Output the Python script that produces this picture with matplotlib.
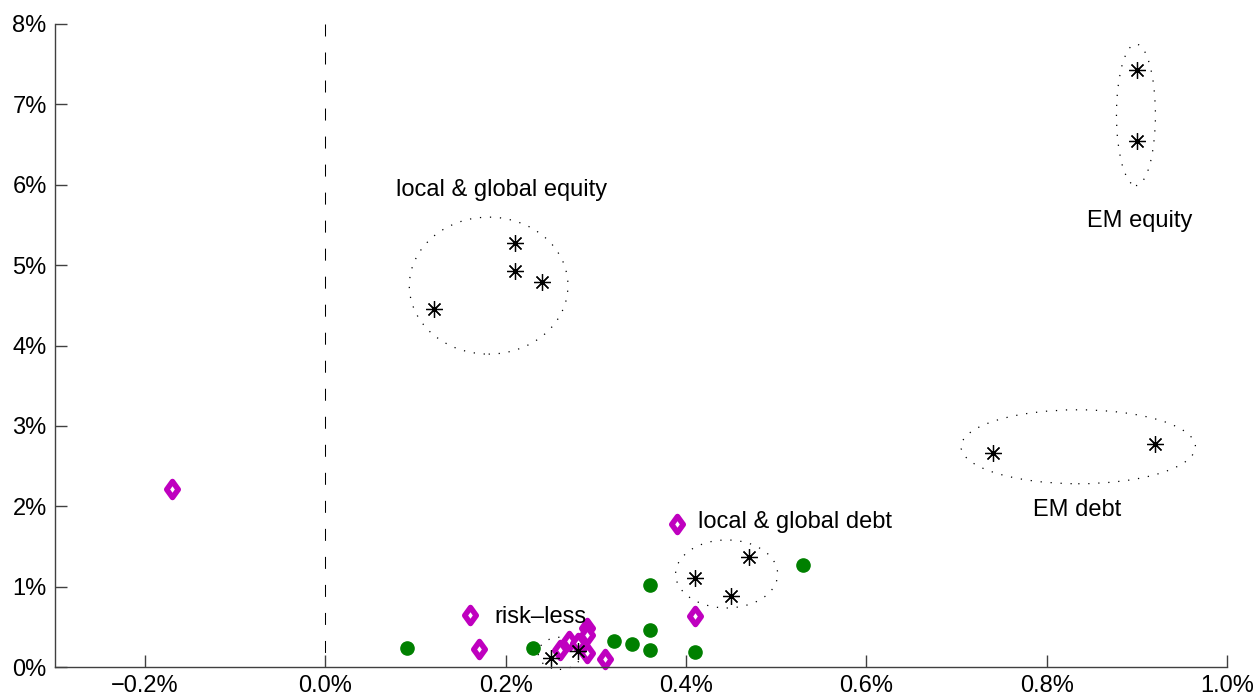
import numpy as np
import matplotlib.pyplot as plt
from matplotlib.patches import Ellipse
from matplotlib.path import Path

plt.rcParams['font.family'] = ['Liberation Sans', 'DejaVu Sans']

# --- data (x: %, y: %)
star_x = [0.90, 0.90, 0.12, 0.21, 0.21, 0.24, 0.74, 0.92, 0.41, 0.45, 0.47, 0.25, 0.28]
star_y = [7.43, 6.55, 4.45, 5.27, 4.93, 4.79, 2.66, 2.77, 1.11, 0.88, 1.37, 0.11, 0.20]

diam_x = [-0.17, 0.16, 0.17, 0.39, 0.41, 0.26, 0.27, 0.28, 0.29, 0.29, 0.29, 0.31]
diam_y = [2.21, 0.65, 0.22, 1.78, 0.63, 0.21, 0.32, 0.30, 0.49, 0.40, 0.17, 0.10]

dot_x = [0.09, 0.23, 0.32, 0.34, 0.36, 0.36, 0.36, 0.41, 0.53]
dot_y = [0.24, 0.24, 0.32, 0.29, 1.02, 0.46, 0.21, 0.19, 1.27]

# group ellipses: centre x, centre y, half-width, half-height
ell_cx = [0.181, 0.899, 0.835, 0.445, 0.260]
ell_cy = [4.745, 6.870, 2.740, 1.157, 0.170]
ell_rx = [0.088, 0.0216, 0.130, 0.0566, 0.024]
ell_ry = [0.852, 0.880, 0.460, 0.423, 0.200]

labels = ['local & global equity', 'EM equity', 'EM debt', 'local & global debt', 'risk\u2013less']
label_x = [0.195, 0.903, 0.834, 0.413, 0.187]
label_y = [5.93, 5.55, 1.95, 1.80, 0.62]
label_ha = ['center', 'center', 'center', 'left', 'left']

xticks = [-0.2, 0.0, 0.2, 0.4, 0.6, 0.8, 1.0]
xticklabels = ['\u22120.2%', '0.0%', '0.2%', '0.4%', '0.6%', '0.8%', '1.0%']
yticks = [0, 1, 2, 3, 4, 5, 6, 7, 8]
yticklabels = ['%d%%' % v for v in yticks]

# MATLAB-like diamond (a bit wider than matplotlib's thin diamond)
diamond = Path([(0, 1), (0.72, 0), (0, -1), (-0.72, 0), (0, 1)],
               [Path.MOVETO, Path.LINETO, Path.LINETO, Path.LINETO, Path.CLOSEPOLY])

fig = plt.figure(figsize=(12.58, 6.97), dpi=100)
ax = fig.add_axes([55 / 1258, 30 / 697, 1172 / 1258, 643 / 697])

# zero line (drawn top-down so the dash pattern starts at the top)
ax.plot([0, 0], [8, 0], color='black', lw=0.75, dashes=(11.5, 15.4), zorder=1)

for cx, cy, rx, ry in zip(ell_cx, ell_cy, ell_rx, ell_ry):
    ax.add_patch(Ellipse((cx, cy), 2 * rx, 2 * ry, fill=False, ec='black',
                         lw=0.9, ls=(0, (1, 7)), clip_on=False))

ax.plot(dot_x, dot_y, 'o', color='#008000', ms=9.5, mec='#008000', clip_on=False)
ax.plot(diam_x, diam_y, ls='none', marker=diamond, mfc='white', mec='#BF00BF',
        ms=11.5, mew=4, clip_on=False)
ax.plot(star_x, star_y, ls='none', marker=(8, 2, 0), color='black', ms=12, mew=0.9,
        clip_on=False)

for t, x, y, ha in zip(labels, label_x, label_y, label_ha):
    ax.text(x, y, t, ha=ha, va='center', fontsize=17)

ax.set_xlim(-0.3, 1.0)
ax.set_ylim(0, 8)
ax.set_xticks(xticks)
ax.set_xticklabels(xticklabels)
ax.set_yticks(yticks)
ax.set_yticklabels(yticklabels)
ax.tick_params(direction='in', length=8.6, width=1, colors='#404040',
               labelcolor='black', labelsize=17, pad=6)

for s in ['top', 'right']:
    ax.spines[s].set_visible(False)
for s in ['left', 'bottom']:
    ax.spines[s].set_color('#404040')
    ax.spines[s].set_linewidth(1)

fig.savefig('out.png', dpi=100)
